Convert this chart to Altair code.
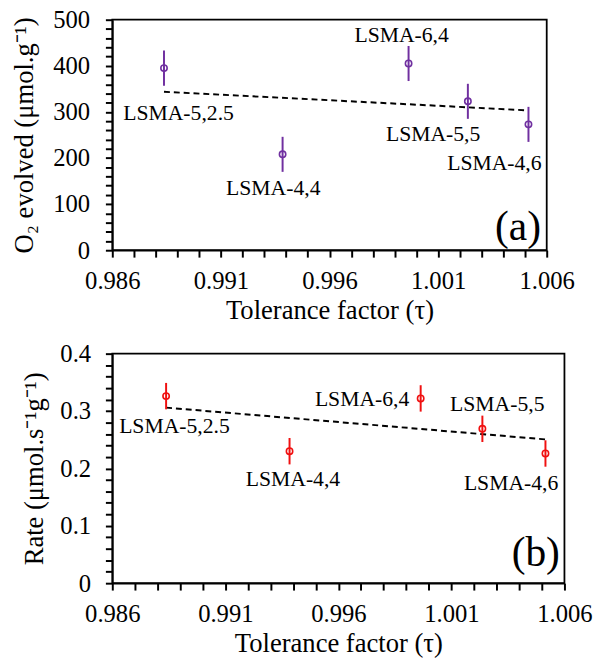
import altair as alt
import pandas as pd

# ---- data ----
names = ["LSMA-5,2.5", "LSMA-4,4", "LSMA-6,4", "LSMA-5,5", "LSMA-4,6"]
tau = [0.98838, 0.99384, 0.99964, 1.00237, 1.00516]
o2 = [395, 208, 405, 323, 273]
o2_err = [38, 38, 38, 38, 38]
rate = [0.326, 0.230, 0.322, 0.269, 0.226]
rate_err = [0.023, 0.023, 0.023, 0.023, 0.023]

# label anchors (data units)
lab_tau_a = [0.98905, 0.99341, 0.99932, 1.00077, 1.00359]
lab_o2_a = [297, 135, 466, 252, 188]
lab_tau_b = [0.98875, 0.99399, 0.99705, 1.00303, 1.00364]
lab_rate_b = [0.273, 0.182, 0.321, 0.312, 0.175]

panel_a = {"t": "(a)", "x": 1.00468, "y": 49}
panel_b = {"t": "(b)", "x": 1.00473, "y": 0.053}

x_ticks = [round(0.986 + i * 0.001, 3) for i in range(21)]
ya_ticks = [i * 20 for i in range(26)]
yb_ticks = [round(i * 0.02, 2) for i in range(21)]

FONT = "'Liberation Serif', 'Times New Roman', serif"
PURPLE = "#7030A0"
RED = "#F01010"

df_a = pd.DataFrame({"name": names, "tau": tau, "v": o2,
                     "lo": [a - b for a, b in zip(o2, o2_err)],
                     "hi": [a + b for a, b in zip(o2, o2_err)],
                     "lx": lab_tau_a, "ly": lab_o2_a})
df_b = pd.DataFrame({"name": names, "tau": tau, "v": rate,
                     "lo": [a - b for a, b in zip(rate, rate_err)],
                     "hi": [a + b for a, b in zip(rate, rate_err)],
                     "lx": lab_tau_b, "ly": lab_rate_b})

x_label_expr = ("abs((datum.value - 0.986) * 200 - round((datum.value - 0.986) * 200)) < 1e-6"
                " ? format(datum.value, '.3f') : ''")

TICK = dict(ticks=True, tickColor="black", tickWidth=2, tickSize=7,
            tickOpacity=1, domainColor="black", domainWidth=1.8)


def panel(df, ydomain, yticks, ylabel_expr, ytitle, color, width, height,
          title_pad, ylabel_pad, plabel):
    xs = alt.Scale(domain=[0.986, 1.006], nice=False, zero=False)
    ys = alt.Scale(domain=ydomain, nice=False)
    xax = alt.Axis(values=x_ticks, labelExpr=x_label_expr, labelOverlap=False,
                   labelFlush=False, title="Tolerance factor (τ)", grid=False,
                   labelPadding=12, titlePadding=4, **TICK)
    yax = alt.Axis(values=yticks, labelExpr=ylabel_expr, labelOverlap=False,
                   labelFlush=False, title=ytitle, grid=False,
                   labelPadding=ylabel_pad, titlePadding=title_pad, **TICK)

    def X(f):
        return alt.X(f, type="quantitative", scale=xs, axis=xax)

    def Y(f):
        return alt.Y(f, type="quantitative", scale=ys, axis=yax)

    base = alt.Chart(df)
    bars = base.mark_rule(color=color, strokeWidth=2).encode(
        x=X("tau"), y=Y("lo"), y2="hi:Q")
    pts = base.mark_point(shape="circle", filled=False, color=color, size=42,
                          strokeWidth=1.6, opacity=1).encode(
        x=X("tau"), y=Y("v"))
    trend = base.transform_regression("tau", "v").mark_line(
        color="black", strokeDash=[6, 4], strokeWidth=2).encode(
        x=X("tau"), y=Y("v"))
    labels = base.mark_text(font=FONT, fontSize=22, align="center",
                            baseline="middle", color="black").encode(
        x=X("lx"), y=Y("ly"), text="name:N")
    plab = alt.Chart(pd.DataFrame([plabel])).mark_text(
        font=FONT, fontSize=42, align="center", baseline="middle",
        color="black").encode(
        x=X("x"), y=Y("y"), text="t:N")
    return alt.layer(trend, bars, pts, labels, plab).properties(
        width=width, height=height)


top = panel(df_a, [0, 500], ya_ticks,
            "datum.value % 100 == 0 ? format(datum.value, 'd') : ''",
            "O₂ evolved (μmol.g⁻¹)", PURPLE, 441, 234, 14, 16, panel_a)
bottom = panel(df_b, [0, 0.4], yb_ticks,
               "abs(datum.value * 10 - round(datum.value * 10)) < 1e-6 ? format(datum.value, '~g') : ''",
               "Rate (μmol.s⁻¹g⁻¹)", RED, 459, 233, 12, 15, panel_b)

chart = alt.concat(top, bottom, columns=1, spacing=17, align="none").properties(
    padding={"left": 10, "top": 2, "right": 0, "bottom": 0}
).configure_view(
    stroke="black", strokeWidth=1.8
).configure_axis(
    labelFont=FONT, titleFont=FONT, labelFontSize=25, titleFontSize=27,
    titleFontWeight="normal", labelColor="black", titleColor="black"
)

chart.save("out.html", embed_options={"renderer": "svg", "actions": False})
